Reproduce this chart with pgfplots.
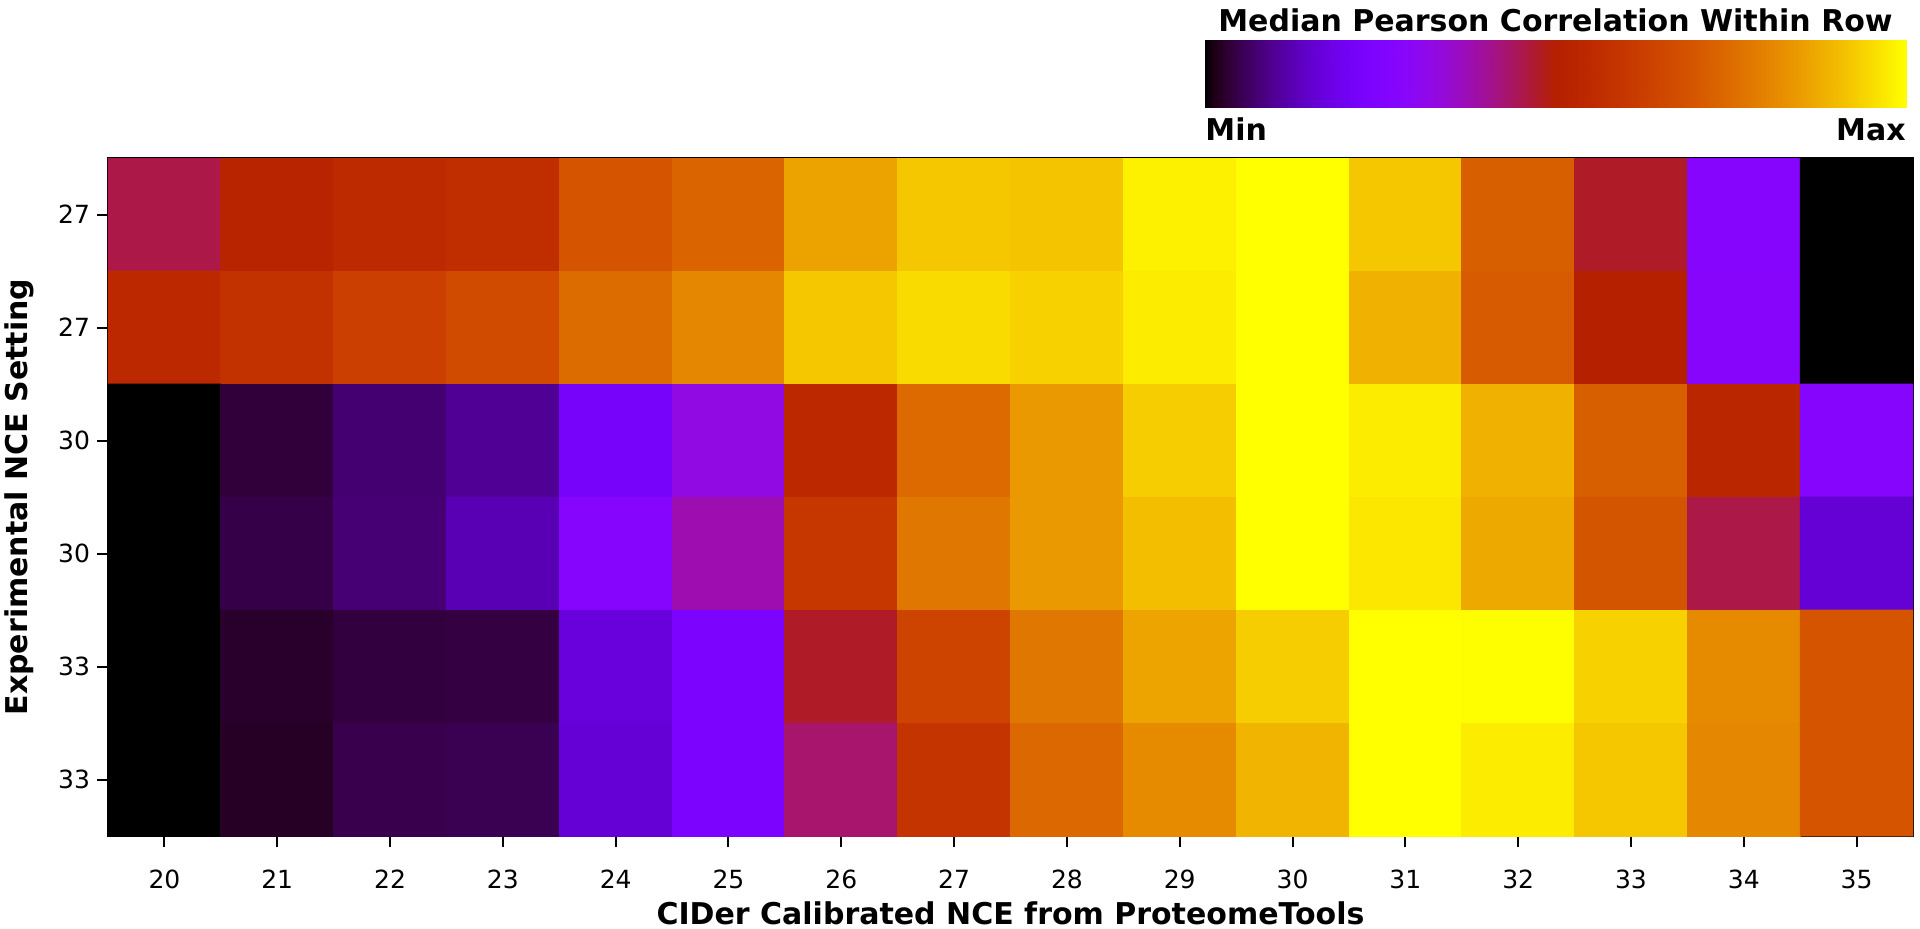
\documentclass[border=0pt]{standalone}
\usepackage{pgfplots}
\pgfplotsset{compat=1.18}
\usepackage{fontspec}
\setmainfont{DejaVu Sans}
\pgfplotsset{
  colormap={gnuplot}{
    rgb255(0pt)=(0,0,0)
    rgb255(1pt)=(29,0,20)
    rgb255(2pt)=(40,0,40)
    rgb255(3pt)=(49,0,59)
    rgb255(4pt)=(57,0,79)
    rgb255(6pt)=(70,0,116)
    rgb255(8pt)=(81,0,150)
    rgb255(10pt)=(90,0,180)
    rgb255(12pt)=(99,1,206)
    rgb255(14pt)=(107,1,227)
    rgb255(16pt)=(114,2,243)
    rgb255(18pt)=(121,3,252)
    rgb255(20pt)=(128,4,255)
    rgb255(22pt)=(134,5,252)
    rgb255(24pt)=(140,7,243)
    rgb255(26pt)=(145,9,227)
    rgb255(28pt)=(151,11,206)
    rgb255(30pt)=(156,13,180)
    rgb255(32pt)=(161,16,150)
    rgb255(34pt)=(166,20,116)
    rgb255(36pt)=(171,23,79)
    rgb255(38pt)=(176,27,40)
    rgb255(40pt)=(180,32,0)
    rgb255(44pt)=(189,42,0)
    rgb255(48pt)=(198,55,0)
    rgb255(52pt)=(206,70,0)
    rgb255(56pt)=(213,87,0)
    rgb255(60pt)=(221,108,0)
    rgb255(64pt)=(228,131,0)
    rgb255(68pt)=(235,157,0)
    rgb255(72pt)=(242,186,0)
    rgb255(76pt)=(249,219,0)
    rgb255(80pt)=(255,255,0)
  }
}
\pgfplotstableread{
x y c
20 0 0.455
21 0 0.52
22 0 0.55
23 0 0.567
24 0 0.69
25 0 0.73
26 0 0.86
27 0 0.92
28 0 0.915
29 0 0.98
30 0 1.0
31 0 0.92
32 0 0.72
33 0 0.475
34 0 0.27
35 0 0.0
20 1 0.543
21 1 0.58
22 1 0.63
23 1 0.665
24 1 0.75
25 1 0.81
26 1 0.92
27 1 0.95
28 1 0.935
29 1 0.975
30 1 1.0
31 1 0.885
32 1 0.71
33 1 0.5
34 1 0.28
35 1 0.0
20 2 0.0
21 2 0.037
22 2 0.072
23 2 0.10
24 2 0.22
25 2 0.325
26 2 0.545
27 2 0.745
28 2 0.845
29 2 0.93
30 2 1.0
31 2 0.975
32 2 0.885
33 2 0.72
34 2 0.53
35 2 0.275
20 3 0.0
21 3 0.046
22 3 0.075
23 3 0.125
24 3 0.27
25 3 0.378
26 3 0.60
27 3 0.775
28 3 0.845
29 3 0.905
30 3 1.0
31 3 0.967
32 3 0.87
33 3 0.695
34 3 0.455
35 3 0.16
20 4 0.0
21 4 0.027
22 4 0.04
23 4 0.042
24 4 0.168
25 4 0.235
26 4 0.475
27 4 0.645
28 4 0.775
29 4 0.862
30 4 0.93
31 4 1.0
32 4 0.998
33 4 0.935
34 4 0.815
35 4 0.69
20 5 0.0
21 5 0.024
22 5 0.049
23 5 0.052
24 5 0.16
25 5 0.235
26 5 0.43
27 5 0.59
28 5 0.74
29 5 0.815
30 5 0.89
31 5 1.0
32 5 0.975
33 5 0.92
34 5 0.81
35 5 0.69
}\heat
\begin{document}
\begin{tikzpicture}
\useasboundingbox (0,0) rectangle (960pt,464pt);
\begin{axis}[
  at={(54pt,46pt)}, anchor=south west,
  width=902.5pt, height=339pt, scale only axis,
  xmin=19.5, xmax=35.5, ymin=-0.5, ymax=5.5, y dir=reverse,
  xtick={20,...,35}, ytick={0,...,5}, yticklabels={27,27,30,30,33,33},
  xtick pos=bottom, ytick pos=left,
  tick align=outside, major tick length=5.5pt,
  tick style={line width=1pt, black},
  axis line style={line width=1.2pt},
  /pgf/number format/assume math mode=true,
  tick label style={font=\fontsize{12.5}{15}\selectfont},
  xticklabel style={yshift=-8pt},
  label style={font=\bfseries\fontsize{15}{18}\selectfont},
  xlabel={CIDer Calibrated NCE from ProteomeTools},
  ylabel={Experimental NCE Setting},
  xlabel style={at={(axis description cs:0.5,-0.114)}, anchor=center},
  ylabel style={at={(axis description cs:-0.0493,0.5)}, anchor=center},
  colormap name=gnuplot,
  point meta min=0, point meta max=1,
]
\addplot[matrix plot*, mesh/cols=16, point meta=explicit] table[x=x, y=y, meta=c] {\heat};
\end{axis}
\begin{axis}[
  at={(602.5pt,410pt)}, anchor=south west,
  width=350.5pt, height=34pt, scale only axis,
  xmin=0, xmax=1, ymin=0, ymax=1, hide axis,
  colormap name=gnuplot,
  point meta min=0, point meta max=1,
]
\addplot[surf, shader=interp, mesh/rows=2, point meta=x] coordinates {
(0,0) (1,0)

(0,1) (1,1)
};
\end{axis}
\node[anchor=base, font=\bfseries\fontsize{15}{18}\selectfont] at (777.75pt,448.25pt) {Median Pearson Correlation Within Row};
\node[anchor=base west, inner sep=0pt, font=\bfseries\fontsize{15}{18}\selectfont] at (602.5pt,393.5pt) {Min};
\node[anchor=base east, inner sep=0pt, font=\bfseries\fontsize{15}{18}\selectfont] at (953pt,393.5pt) {Max};
\end{tikzpicture}
\end{document}
